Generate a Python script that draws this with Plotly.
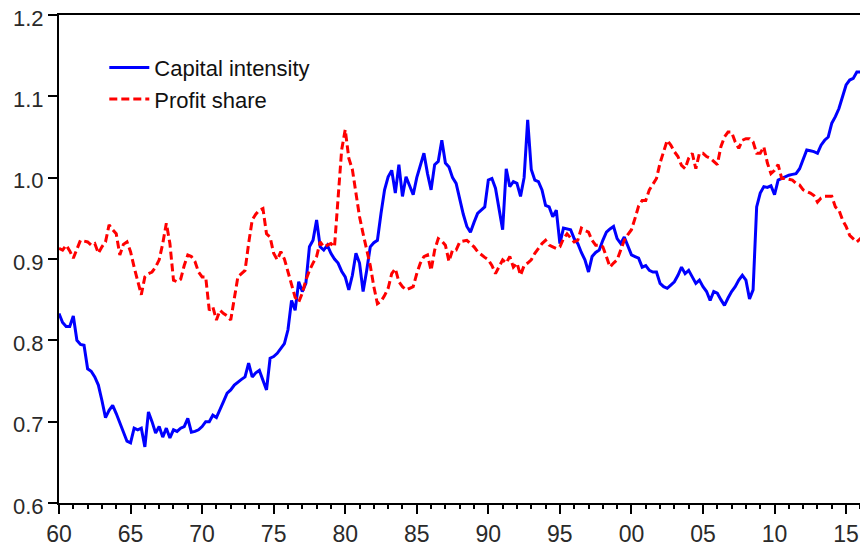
import plotly.graph_objects as go

start_year = 1960
quarters_per_year = 4

capital_intensity = [
    0.833, 0.822, 0.817, 0.817,
    0.830, 0.800, 0.795, 0.794,
    0.765, 0.762, 0.755, 0.745,
    0.726, 0.705, 0.714, 0.720,
    0.710, 0.698, 0.688, 0.676,
    0.674, 0.692, 0.690, 0.692,
    0.669, 0.712, 0.700, 0.686,
    0.694, 0.681, 0.692, 0.680,
    0.690, 0.688, 0.692, 0.694,
    0.704, 0.687, 0.688, 0.690,
    0.694, 0.700, 0.700, 0.708,
    0.705, 0.714, 0.725, 0.735,
    0.739, 0.745, 0.749, 0.752,
    0.755, 0.772, 0.755, 0.760,
    0.763, 0.750, 0.739, 0.778,
    0.780, 0.784, 0.790, 0.796,
    0.813, 0.849, 0.837, 0.872,
    0.860, 0.870, 0.915, 0.923,
    0.948, 0.915, 0.911, 0.917,
    0.907, 0.900, 0.895, 0.885,
    0.878, 0.862, 0.880, 0.907,
    0.895, 0.860, 0.886, 0.915,
    0.920, 0.923, 0.956, 0.985,
    1.001, 1.009, 0.981, 1.016,
    0.977, 1.001, 0.990, 0.979,
    1.000, 1.015, 1.030, 1.005,
    0.985, 1.016, 1.020, 1.046,
    1.018, 1.013, 1.000, 0.993,
    0.972, 0.955, 0.940, 0.933,
    0.945, 0.956, 0.960, 0.964,
    0.997, 0.999, 0.987, 0.960,
    0.936, 1.011, 0.989, 0.995,
    0.993, 0.977, 1.000, 1.071,
    1.010, 0.997, 0.995, 0.985,
    0.966, 0.964, 0.952, 0.960,
    0.919, 0.938, 0.937, 0.936,
    0.925, 0.919, 0.908, 0.899,
    0.884, 0.903, 0.908, 0.911,
    0.923, 0.933, 0.937, 0.940,
    0.925, 0.919, 0.927, 0.915,
    0.905, 0.903, 0.901, 0.890,
    0.892, 0.886, 0.884, 0.884,
    0.870, 0.866, 0.864, 0.868,
    0.872, 0.880, 0.890, 0.882,
    0.886, 0.878, 0.870, 0.874,
    0.866, 0.860, 0.849, 0.860,
    0.858, 0.850, 0.843, 0.852,
    0.860, 0.866, 0.874, 0.880,
    0.874, 0.851, 0.862, 0.964,
    0.981, 0.989, 0.988, 0.990,
    0.979, 0.997, 0.999, 1.001,
    1.003, 1.004, 1.005, 1.011,
    1.022, 1.034, 1.033, 1.032,
    1.030, 1.040, 1.046, 1.050,
    1.067, 1.075, 1.085, 1.100,
    1.114, 1.120, 1.122, 1.130,
    1.130, 1.130,
]

profit_share = [
    0.913, 0.911, 0.917, 0.910,
    0.901, 0.913, 0.923, 0.922,
    0.921, 0.917, 0.919, 0.907,
    0.915, 0.921, 0.942, 0.936,
    0.931, 0.905, 0.918, 0.921,
    0.909, 0.890, 0.874, 0.856,
    0.878, 0.882, 0.884, 0.890,
    0.899, 0.919, 0.944, 0.919,
    0.874, 0.872, 0.875, 0.892,
    0.905, 0.903, 0.897, 0.884,
    0.878, 0.878, 0.837, 0.841,
    0.825, 0.837, 0.833, 0.830,
    0.825, 0.853, 0.878, 0.882,
    0.886, 0.919, 0.948, 0.955,
    0.960, 0.962, 0.931, 0.927,
    0.907, 0.899, 0.909, 0.900,
    0.885, 0.870, 0.853, 0.847,
    0.858, 0.874, 0.886, 0.895,
    0.903, 0.921, 0.915, 0.917,
    0.919, 0.915, 0.972, 1.034,
    1.059, 1.024, 1.010, 0.980,
    0.952, 0.931, 0.911, 0.892,
    0.866, 0.845, 0.848, 0.855,
    0.864, 0.882, 0.888, 0.872,
    0.866, 0.862, 0.864, 0.866,
    0.882, 0.895, 0.903, 0.905,
    0.886, 0.911, 0.925, 0.922,
    0.917, 0.897, 0.911, 0.911,
    0.921, 0.922, 0.923, 0.919,
    0.915, 0.909, 0.905, 0.902,
    0.899, 0.892, 0.882, 0.890,
    0.899, 0.895, 0.903, 0.890,
    0.895, 0.880, 0.892, 0.895,
    0.899, 0.907, 0.913, 0.919,
    0.923, 0.917, 0.915, 0.913,
    0.915, 0.925, 0.931, 0.926,
    0.921, 0.923, 0.938, 0.935,
    0.933, 0.923, 0.917, 0.917,
    0.915, 0.903, 0.890, 0.895,
    0.899, 0.911, 0.923, 0.930,
    0.936, 0.950, 0.965, 0.972,
    0.972, 0.985, 0.992, 0.999,
    1.018, 1.032, 1.046, 1.040,
    1.032, 1.026, 1.015, 1.011,
    1.024, 1.030, 1.011, 1.030,
    1.030, 1.026, 1.024, 1.020,
    1.016, 1.038, 1.050, 1.056,
    1.056, 1.044, 1.036, 1.046,
    1.048, 1.048, 1.044, 1.030,
    1.030, 1.038, 1.018, 1.005,
    1.009, 1.016, 0.999, 0.999,
    0.998, 0.997, 0.993, 0.991,
    0.985, 0.983, 0.981, 0.978,
    0.970, 0.975, 0.977, 0.977,
    0.977, 0.964, 0.960, 0.948,
    0.940, 0.929, 0.925, 0.921,
    0.925, 0.931,
]

x_tick_years = [1960, 1965, 1970, 1975, 1980, 1985, 1990, 1995, 2000, 2005, 2010, 2015]
x_tick_labels = ["60", "65", "70", "75", "80", "85", "90", "95", "00", "05", "10", "15"]
y_tick_vals = [0.6, 0.7, 0.8, 0.9, 1.0, 1.1, 1.2]
y_tick_labels = ["0.6", "0.7", "0.8", "0.9", "1.0", "1.1", "1.2"]

x_quarters = [start_year + i / quarters_per_year for i in range(len(capital_intensity))]

FONT = "Arial, 'Liberation Sans', sans-serif"
TICK_FONT = dict(family=FONT, size=22, color="#2a2a2a")

fig = go.Figure()
fig.add_trace(go.Scatter(
    x=x_quarters, y=capital_intensity, mode="lines", name="Capital intensity",
    line=dict(color="#0000FF", width=3),
))
fig.add_trace(go.Scatter(
    x=x_quarters, y=profit_share, mode="lines", name="Profit share",
    line=dict(color="#FF0000", width=3, dash="8px,4px"),
))

fig.update_layout(
    width=868, height=547,
    margin=dict(l=51, r=8, t=7, b=52, autoexpand=False),
    paper_bgcolor="white", plot_bgcolor="white",
    font=dict(family=FONT, size=22, color="#222222"),
    showlegend=True,
    legend=dict(
        x=0.056, y=0.935, xanchor="left", yanchor="top",
        bgcolor="rgba(0,0,0,0)", font=dict(family=FONT, size=22, color="#111111"),
        itemwidth=40, tracegroupgap=0,
    ),
    xaxis=dict(
        range=[1960, 2016.53], showgrid=False, zeroline=False, automargin=False,
        showline=True, linecolor="black", linewidth=2, mirror=True,
        ticks="outside", ticklen=9, tickwidth=1.5, tickcolor="black",
        tickvals=x_tick_years, ticktext=x_tick_labels,
        minor=dict(ticks="outside", ticklen=4, tickwidth=1.5, tickcolor="black", dtick=1, tick0=1960),
        tickfont=dict(family=FONT, size=23, color="#2a2a2a"), ticklabeloverflow="allow",
    ),
    yaxis=dict(
        range=[0.6, 1.2], showgrid=False, zeroline=False, automargin=False,
        showline=True, linecolor="black", linewidth=2, mirror=False,
        ticks="outside", ticklen=9, tickwidth=1.5, tickcolor="black",
        tickvals=y_tick_vals, ticktext=y_tick_labels,
        tickfont=TICK_FONT, ticklabeloverflow="allow", ticklabelshift=3,
    ),
)

fig.write_html("out.html")
